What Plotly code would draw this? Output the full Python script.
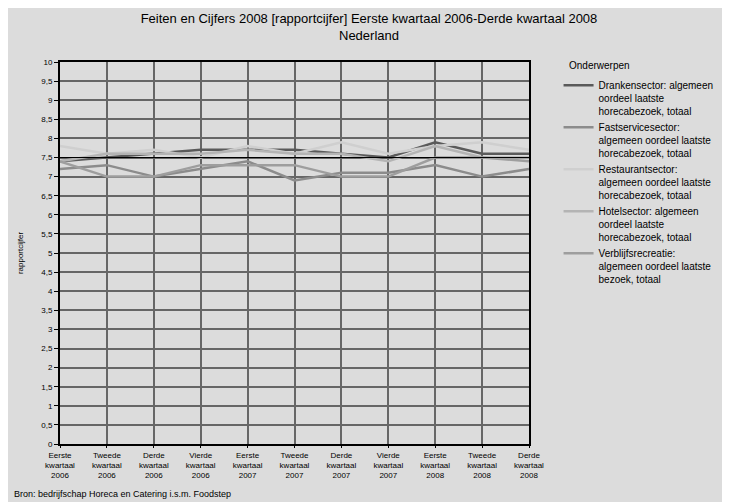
import plotly.graph_objects as go

categories = ["Eerste<br>kwartaal<br>2006", "Tweede<br>kwartaal<br>2006", "Derde<br>kwartaal<br>2006",
              "Vierde<br>kwartaal<br>2006", "Eerste<br>kwartaal<br>2007", "Tweede<br>kwartaal<br>2007",
              "Derde<br>kwartaal<br>2007", "Vierde<br>kwartaal<br>2007", "Eerste<br>kwartaal<br>2008",
              "Tweede<br>kwartaal<br>2008", "Derde<br>kwartaal<br>2008"]

dranken = [7.4, 7.5, 7.6, 7.7, 7.7, 7.7, 7.6, 7.5, 7.9, 7.6, 7.6]
fastservice = [7.2, 7.3, 7.0, 7.2, 7.4, 6.9, 7.1, 7.1, 7.3, 7.0, 7.2]
restaurant = [7.8, 7.6, 7.7, 7.5, 7.8, 7.6, 7.9, 7.6, 7.8, 7.9, 7.7]
hotel = [7.4, 7.6, 7.6, 7.6, 7.7, 7.6, 7.6, 7.4, 7.8, 7.5, 7.5]
verblijf = [7.4, 7.0, 7.0, 7.3, 7.3, 7.3, 7.0, 7.0, 7.5, 7.5, 7.4]
reference_line = 7.5

series_names = [
    "Drankensector: algemeen<br>oordeel laatste<br>horecabezoek, totaal",
    "Fastservicesector:<br>algemeen oordeel laatste<br>horecabezoek, totaal",
    "Restaurantsector:<br>algemeen oordeel laatste<br>horecabezoek, totaal",
    "Hotelsector: algemeen<br>oordeel laatste<br>horecabezoek, totaal",
    "Verblijfsrecreatie:<br>algemeen oordeel laatste<br>bezoek, totaal",
]
series_values = [dranken, fastservice, restaurant, hotel, verblijf]
series_colors = ["#5a5a5a", "#8c8c8c", "#cfcfcf", "#b4b4b4", "#9e9e9e"]

xs = list(range(len(categories)))
fig = go.Figure()
for i, (name, vals, col) in enumerate(zip(series_names, series_values, series_colors)):
    fig.add_trace(go.Scatter(x=xs, y=vals, mode="lines", name=name,
                             line=dict(color=col, width=2.5), legendgroup=str(i)))

fig.add_hline(y=reference_line, line=dict(color="#000000", width=1), layer="above")

font = "Liberation Sans, Arial, sans-serif"
fig.update_layout(
    width=722, height=494,
    separators=",.",
    paper_bgcolor="#dcdcdc", plot_bgcolor="#dcdcdc",
    font=dict(family=font, size=8, color="#000000"),
    margin=dict(l=47, r=181, t=54, b=58),
    title=dict(text="Feiten en Cijfers 2008 [rapportcijfer] Eerste kwartaal 2006-Derde kwartaal 2008<br>Nederland",
               x=0.5, xanchor="center", yref="container", y=0.97, yanchor="top",
               font=dict(size=13, family=font)),
    xaxis=dict(range=[0, len(categories) - 1], tickmode="array", tickvals=xs, ticktext=categories,
               showgrid=True, gridcolor="#666666", gridwidth=2, showline=True, linecolor="#000000",
               linewidth=2, mirror=True, ticks="outside", ticklen=2, tickcolor="#000000",
               tickangle=0, zeroline=False),
    yaxis=dict(range=[0, 10], dtick=0.5, showgrid=True, gridcolor="#666666", gridwidth=2,
               showline=True, linecolor="#000000", linewidth=2, mirror=True, ticks="outside",
               ticklen=4, tickcolor="#000000", zeroline=False,
               title=dict(text="rapportcijfer", font=dict(size=8), standoff=16)),
    legend=dict(x=1.063, xanchor="left", y=0.973, yanchor="top", bgcolor="rgba(0,0,0,0)",
                font=dict(size=10, family=font), valign="top",
                tracegroupgap=0, itemwidth=30),
    annotations=[
        dict(text="Onderwerpen", xref="paper", yref="paper", x=1.081, y=0.992,
             xanchor="left", yanchor="middle", showarrow=False, font=dict(size=10, family=font)),
        dict(text="Bron: bedrijfschap Horeca en Catering i.s.m. Foodstep", xref="paper", yref="paper",
             x=-0.103, y=-0.131, xanchor="left", yanchor="middle", showarrow=False,
             font=dict(size=9, family=font)),
    ],
)

fig.write_html("out.html")
